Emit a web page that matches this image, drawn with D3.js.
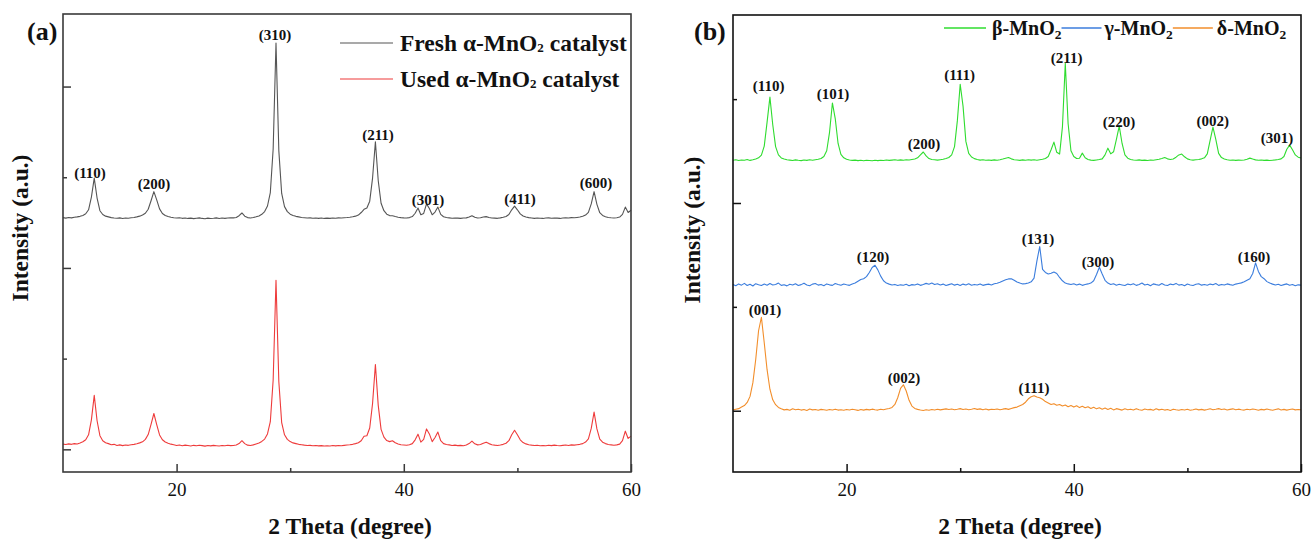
<!DOCTYPE html>
<html>
<head>
<meta charset="utf-8">
<script src="https://cdn.jsdelivr.net/npm/d3@7"></script>
<style>
  body { margin: 0; background: #fff; }
  text { font-family: "Liberation Serif", "Times New Roman", serif; }
</style>
</head>
<body>
<svg id="chart" width="1312" height="539"></svg>
<script>
// 2 theta grid: 10 .. 60 deg, step 0.25 (201 points)
var twoTheta = d3.range(201).map(function(i) { return 10 + i * 0.25; });

// ---- panel (a): alpha-MnO2 fresh / used, raw counts (baseline ~100)
var freshA = [
  104,98,106,101,108,112,118,128,146,190,330,540,320,180,138,120,112,104,100,97,
  101,95,100,97,103,106,112,120,132,152,196,290,390,300,200,150,128,116,108,103,
  99,102,96,100,95,98,93,97,101,95,92,98,94,97,101,95,99,96,100,103,
  101,106,125,155,120,104,100,105,113,122,140,170,232,380,860,2030,840,370,225,170,
  142,128,118,112,106,103,99,101,97,100,96,99,95,98,96,100,97,101,99,103,
  105,108,113,120,132,160,195,210,285,540,940,510,262,180,142,126,125,116,108,104,
  101,99,104,116,152,210,135,150,255,205,135,165,220,140,113,105,101,97,100,98,
  96,99,101,110,125,108,100,102,110,115,106,100,98,96,101,107,116,138,190,230,
  190,145,122,110,104,100,96,99,97,95,99,101,97,100,98,95,100,103,99,104,
  102,106,110,118,132,162,255,390,250,158,128,114,106,102,99,103,110,140,220,160,
  185];
var usedA = [
  112,108,115,110,118,114,125,138,160,215,380,650,370,205,150,128,118,106,110,98,
  104,96,102,99,106,110,116,126,138,165,218,330,450,328,214,160,136,122,112,105,
  98,103,95,101,97,92,99,94,100,96,90,97,93,99,95,91,98,94,100,96,
  97,102,118,150,118,101,98,104,114,124,142,168,225,360,820,1920,800,350,215,165,
  140,126,118,110,106,101,97,99,94,97,93,96,91,95,92,97,93,98,95,99,
  102,105,110,118,128,150,200,205,290,560,990,540,275,190,152,140,150,128,114,106,
  103,100,106,118,160,222,135,165,280,225,140,185,245,150,118,108,104,98,101,96,
  99,95,102,118,145,116,104,108,122,134,118,106,101,97,103,110,122,150,215,265,
  215,160,130,115,106,101,97,100,95,98,94,100,96,101,97,94,99,102,98,104,
  101,106,110,118,135,170,285,465,280,168,134,118,108,104,100,104,112,150,255,175,
  200];
var offsetsA = [2451, -55];
var colorsA = ["#555555", "#ee3b3b"];
var legendPreA = ["Fresh \u03b1-MnO", "Used \u03b1-MnO"];
var legendPostA = [" catalyst", " catalyst"];

var peakTextA = ["(110)", "(200)", "(310)", "(211)", "(301)", "(411)", "(600)"];
var peakThetaA = [12.38, 18.01, 28.66, 37.73, 42.13, 50.23, 56.92];
var peakIntA = [3048, 2926, 4570, 3467, 2750, 2761, 2938];

// ---- panel (b): beta / gamma / delta MnO2
var betaB = [
  98,104,96,101,99,105,97,103,110,122,148,235,465,706,440,230,150,121,110,104,
  100,96,102,98,95,101,97,103,99,104,108,115,135,190,370,650,500,260,155,122,
  108,101,97,100,95,98,94,99,96,93,98,95,99,96,101,97,100,103,98,102,
  99,104,101,106,110,122,150,178,140,115,106,103,100,104,108,115,125,150,230,480,
  830,620,280,165,130,114,106,100,103,98,101,97,102,99,104,110,118,125,112,104,
  101,97,102,99,104,100,103,98,104,108,116,135,200,273,175,158,420,1033,450,190,
  135,115,118,167,122,106,100,97,101,105,112,150,215,160,180,300,427,260,150,118,
  106,101,98,102,97,100,96,101,98,103,108,116,125,112,106,110,128,150,158,132,
  112,104,100,103,106,112,122,160,290,417,300,165,124,110,103,99,101,97,100,98,
  101,108,119,110,102,98,101,97,100,96,99,102,106,112,135,205,244,200,150,128,
  120];
var gammaB = [
  104,92,110,98,115,95,107,90,112,101,94,108,97,113,99,104,118,96,102,91,
  106,99,112,95,103,117,100,92,108,114,98,105,93,110,101,96,113,104,97,109,
  102,96,110,118,135,152,160,180,220,268,290,245,185,140,118,108,99,105,94,101,
  97,106,92,103,99,110,96,104,115,107,118,104,112,100,108,95,103,111,98,106,
  94,108,100,112,97,105,99,110,96,103,108,100,112,117,125,138,150,158,160,145,
  128,118,110,113,118,130,165,330,470,250,220,205,212,225,210,172,140,118,110,104,
  112,100,108,96,104,110,118,140,200,270,205,145,118,104,112,97,106,100,94,108,
  101,112,96,105,118,99,107,92,110,103,97,114,100,95,108,102,115,98,104,93,
  109,100,95,106,112,98,104,97,108,101,113,96,105,99,110,103,97,108,114,120,
  130,145,160,210,312,230,180,160,132,118,108,99,106,95,103,110,97,104,92,101,
  98];
var deltaB = [
  98,104,110,125,140,170,228,360,583,860,990,745,485,297,195,148,122,108,98,103,
  95,108,99,104,96,101,93,106,98,102,95,103,99,94,101,97,105,96,100,94,
  102,97,104,99,93,101,96,103,98,105,100,96,104,99,107,112,122,150,215,305,
  340,280,190,135,112,103,97,92,99,95,101,97,104,98,103,108,101,106,99,104,
  110,102,107,99,105,112,103,108,100,106,98,104,101,107,99,105,110,103,112,120,
  125,138,150,172,205,225,235,222,215,200,178,165,150,158,142,150,135,145,128,140,
  125,138,120,132,118,128,112,124,108,119,105,116,102,113,98,110,103,96,108,99,
  105,97,110,100,94,106,99,103,95,108,98,104,96,101,93,105,99,94,102,97,
  104,95,100,107,98,103,96,101,109,99,104,110,101,106,97,103,108,99,105,100,
  96,104,99,107,101,95,103,98,106,100,94,102,108,97,103,96,101,106,98,102,
  99];
var offsetsB = [2313, 1111, -90];
var colorsB = ["#2fdc2f", "#3b7ddd", "#f28e2b"];
var legendPreB = ["\u03b2-MnO", "\u03b3-MnO", "\u03b4-MnO"];

var peakTextB = ["(110)", "(101)", "(200)", "(111)", "(211)", "(220)", "(002)", "(301)",
                 "(120)", "(131)", "(300)", "(160)",
                 "(001)", "(002)", "(111)"];
var peakThetaB = [13.14, 18.80, 26.81, 29.95, 39.37, 43.98, 52.23, 57.89,
                  22.32, 36.85, 42.13, 55.86,
                  12.82, 25.05, 36.50];
var peakIntB = [3125, 3048, 2567, 3231, 3394, 2779, 2788, 2625,
                1481, 1654, 1433, 1481,
                971, 317, 221];

var xMajor = [20, 40, 60];
var xMinor = [30, 50];

////////////////////////////////////////////////////////////////////////////////
var svg = d3.select("#chart");
var FONT = '"Liberation Serif", "Times New Roman", serif';

function drawPanel(p) {
  var x = d3.scaleLinear().domain([10, 60]).range([p.left, p.right]);
  var y = d3.scaleLinear().domain(p.yDomain).range([p.bottom, p.top]);
  var g = svg.append("g");

  // traces
  p.series.forEach(function(vals, k) {
    var line = d3.line()
      .x(function(d, i) { return x(twoTheta[i]); })
      .y(function(d) { return y(d + p.offsets[k]); });
    g.append("path")
      .datum(vals)
      .attr("d", line)
      .attr("fill", "none")
      .attr("stroke", p.colors[k])
      .attr("stroke-width", 1.1)
      .attr("stroke-linejoin", "round");
  });

  // axes (inward ticks)
  function styleAxis(s) {
    s.select(".domain").remove();
    s.selectAll("line").attr("stroke", p.frame).attr("stroke-width", 1.5);
    s.selectAll("text").attr("font-family", FONT).attr("font-size", 19).attr("fill", "#111");
  }
  g.append("g").attr("transform", "translate(0," + p.bottom + ")")
    .call(d3.axisBottom(x).tickValues(xMajor).tickSize(-8).tickPadding(11).tickFormat(d3.format("d")))
    .call(styleAxis);
  g.append("g").attr("transform", "translate(0," + p.bottom + ")")
    .call(d3.axisBottom(x).tickValues(xMinor).tickSize(-4).tickFormat(""))
    .call(styleAxis);
  g.append("g").attr("transform", "translate(" + p.left + ",0)")
    .call(d3.axisLeft(y).tickValues(p.yMajor).tickSize(-8).tickFormat(""))
    .call(styleAxis);
  g.append("g").attr("transform", "translate(" + p.left + ",0)")
    .call(d3.axisLeft(y).tickValues(p.yMinor).tickSize(-4).tickFormat(""))
    .call(styleAxis);

  // frame
  g.append("rect")
    .attr("x", p.left).attr("y", p.top)
    .attr("width", p.right - p.left).attr("height", p.bottom - p.top)
    .attr("fill", "none").attr("stroke", p.frame).attr("stroke-width", 1.6);

  // peak labels
  g.selectAll(".peak").data(p.peakText).enter().append("text")
    .attr("class", "peak")
    .attr("x", function(d, i) { return x(p.peakTheta[i]); })
    .attr("y", function(d, i) { return y(p.peakInt[i]) + 5; })
    .attr("text-anchor", "middle")
    .attr("font-size", 15)
    .attr("font-weight", "bold")
    .attr("fill", "#111")
    .text(function(d) { return d; });

  // titles
  g.append("text")
    .attr("x", (p.left + p.right) / 2 + 3).attr("y", 534)
    .attr("text-anchor", "middle").attr("font-size", 23.5).attr("font-weight", "bold")
    .attr("fill", "#111")
    .text("2 Theta (degree)");
  g.append("text")
    .attr("transform", "translate(" + p.ytX + "," + p.ytY + ") rotate(-90)")
    .attr("text-anchor", "middle").attr("font-size", 23.5).attr("font-weight", "bold")
    .attr("fill", "#111")
    .text("Intensity (a.u.)");
  g.append("text")
    .attr("x", p.tagX).attr("y", 40)
    .attr("font-size", 26).attr("font-weight", "bold").attr("fill", "#111")
    .text(p.tag);

  return g;
}

var gA = drawPanel({
  left: 63, right: 631, top: 14, bottom: 472,
  yDomain: [-250, 4800], yMajor: [0, 2000, 4000], yMinor: [1000, 3000],
  series: [freshA, usedA], offsets: offsetsA, colors: colorsA,
  peakText: peakTextA, peakTheta: peakThetaA, peakInt: peakIntA,
  frame: "#3a3a3a", ytX: 28, ytY: 228, tag: "(a)", tagX: 27
});

var gB = drawPanel({
  left: 733, right: 1301, top: 15, bottom: 472,
  yDomain: [-590, 3810], yMajor: [0, 2000], yMinor: [1000, 3000],
  series: [betaB, gammaB, deltaB], offsets: offsetsB, colors: colorsB,
  peakText: peakTextB, peakTheta: peakThetaB, peakInt: peakIntB,
  frame: "#111", ytX: 700, ytY: 230, tag: "(b)", tagX: 694
});

// legend (a)
var legA = gA.selectAll(".leg").data(legendPreA).enter().append("g").attr("class", "leg")
  .attr("transform", function(d, i) { return "translate(340," + (43 + i * 36) + ")"; });
legA.append("line").attr("x1", 0).attr("x2", 53)
  .attr("stroke", function(d, i) { return colorsA[i]; }).attr("stroke-width", 1.2);
var tA = legA.append("text").attr("x", 60).attr("y", 7.5)
  .attr("font-size", 23.5).attr("font-weight", "bold").attr("fill", "#111");
tA.append("tspan").text(function(d) { return d; });
tA.append("tspan").attr("font-size", 13).attr("dy", 1).text("2");
tA.append("tspan").attr("dy", -1).text(function(d, i) { return legendPostA[i]; });

// legend (b): line then label, each entry right after the previous label
var legLenB = [42, 40, 40];
var legGapB = [6, 3, 4];
var cursor = 944;
legendPreB.forEach(function(name, i) {
  var g = gB.append("g").attr("transform", "translate(" + cursor + ",28)");
  g.append("line").attr("x1", 0).attr("x2", legLenB[i])
    .attr("stroke", colorsB[i]).attr("stroke-width", 1.6);
  var t = g.append("text").attr("x", legLenB[i] + legGapB[i]).attr("y", 6.5)
    .attr("font-size", 20).attr("font-weight", "bold").attr("fill", "#111");
  t.append("tspan").text(name);
  t.append("tspan").attr("font-size", 13.5).attr("dy", 4).text("2");
  cursor += legLenB[i] + legGapB[i] + t.node().getComputedTextLength();
});
</script>
</body>
</html>
